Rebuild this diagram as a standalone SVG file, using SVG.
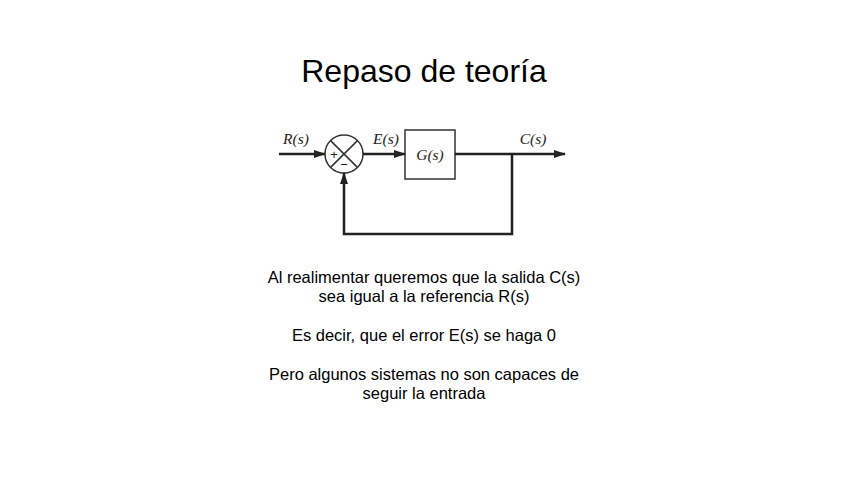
<svg xmlns="http://www.w3.org/2000/svg" width="848" height="477" viewBox="0 0 848 477">
<style>
.t{font-family:"Liberation Sans",Arial,sans-serif;fill:#000;text-anchor:middle}
.b{font-size:16.5px}
.m{font-family:"Liberation Serif","Times New Roman",serif;font-style:italic;font-size:15.5px;fill:#222;text-anchor:middle}
.w{fill:none;stroke:#222;stroke-width:2.5}
.o{fill:none;stroke:#333;stroke-width:1.5}
.s{font-family:"Liberation Sans",Arial,sans-serif;font-size:13px;fill:#222;text-anchor:middle}
</style>
<defs>
<marker id="ar" markerWidth="12" markerHeight="10" refX="11" refY="5" orient="auto" markerUnits="userSpaceOnUse">
<path d="M0,1 L12,5 L0,9 z" fill="#222"/>
</marker>
</defs>
<rect width="848" height="477" fill="#fff"/>
<text class="t" x="424" y="82" font-size="32">Repaso de teoría</text>
<g id="sum">
<circle class="o" cx="344" cy="154" r="19"/>
<line class="o" x1="330.6" y1="140.6" x2="357.4" y2="167.4"/>
<line class="o" x1="357.4" y1="140.6" x2="330.6" y2="167.4"/>
<text class="s" x="334" y="158.5">+</text>
<text class="s" x="344" y="168.5">−</text>
</g>
<g id="G">
<rect class="o" x="405" y="130" width="50" height="49"/>
<text class="m" x="430" y="159.5">G(s)</text>
</g>
<g id="connectors">
<line class="w" x1="279" y1="154" x2="325" y2="154" marker-end="url(#ar)"/>
<line class="w" x1="363" y1="154" x2="405" y2="154" marker-end="url(#ar)"/>
<line class="w" x1="455" y1="154" x2="565" y2="154" marker-end="url(#ar)"/>
<polyline class="w" points="512,154 512,234 344,234 344,173" marker-end="url(#ar)"/>
</g>
<g id="labels">
<text class="m" x="296" y="144">R(s)</text>
<text class="m" x="386" y="144">E(s)</text>
<text class="m" x="533" y="144">C(s)</text>
</g>
<g id="body">
<text class="t b" x="424" y="283">Al realimentar queremos que la salida C(s)</text>
<text class="t b" x="424" y="302">sea igual a la referencia R(s)</text>
<text class="t b" x="424" y="341">Es decir, que el error E(s) se haga 0</text>
<text class="t b" x="424" y="380">Pero algunos sistemas no son capaces de</text>
<text class="t b" x="424" y="399">seguir la entrada</text>
</g>
</svg>
